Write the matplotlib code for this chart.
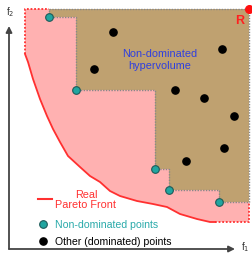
import matplotlib.pyplot as plt

plt.rcParams['font.family'] = ['Liberation Sans', 'DejaVu Sans']

# reference point
R = (240, 240)
# non-dominated points (f1, f2)
front_f1 = [40, 67, 146, 160, 210]
front_f2 = [232, 159, 80, 59, 47]
# other (dominated) points
other_f1 = [104, 85, 213, 166, 195, 225, 215, 177]
other_f2 = [217, 180, 200, 159, 151, 133, 101, 88]
# real Pareto front curve
curve_f1 = [16, 19, 24, 31, 38, 44, 51, 59, 71, 81, 91, 101, 111, 128, 144, 158, 171, 188, 201, 206]
curve_f2 = [195, 187, 170, 150, 133, 120, 107, 93, 82, 73, 67, 58, 53, 48, 45, 42, 35, 30, 27, 27]

pink = '#ffb1b1'
tan = '#bfa170'

fig = plt.figure(figsize=(2.53, 2.55), dpi=100)
ax = fig.add_axes([0, 0, 1, 1])
ax.set_xlim(-9, 244)
ax.set_ylim(-5, 250)
ax.axis('off')

# pink area dominated by the real front
px = [curve_f1[0]] + [R[0], R[0]] + curve_f1[::-1]
py = [R[1]] + [R[1], curve_f2[-1]] + curve_f2[::-1]
ax.fill(px, py, color=pink, lw=0)
ax.plot(curve_f1, curve_f2, color='#ff3030', lw=1.3)
ax.plot([curve_f1[0], curve_f1[0], front_f1[0]], [curve_f2[0], R[1], R[1]],
        color='#ff3030', ls=(0, (1, 1)), lw=1.3)
ax.plot([curve_f1[-1], R[0], R[0]], [curve_f2[-1], curve_f2[-1], front_f2[-1]],
        color='#ff3030', ls=(0, (1, 1)), lw=1.3)

# staircase hypervolume
sx = [front_f1[0], R[0], R[0]]
sy = [R[1], R[1], front_f2[-1]]
for i in range(len(front_f1) - 1, -1, -1):
    sx += [front_f1[i], front_f1[i]]
    sy += [front_f2[i], front_f2[i - 1] if i > 0 else R[1]]
ax.fill(sx, sy, color=tan, lw=0)
ax.plot(sx + [sx[0]], sy + [sy[0]], color='#888888', ls=(0, (1, 1)), lw=1.0)

ax.plot(other_f1, other_f2, 'o', color='black', ms=5.2, zorder=4)
ax.plot(front_f1, front_f2, 'o', color='#21a5a0', mec='#1d5a58', mew=0.8, ms=5.5, zorder=4)
ax.plot(R[0], R[1], 'o', color='#ff1010', ms=5.5, zorder=5, clip_on=False)
ax.text(231, 229, 'R', color='#ff2020', fontsize=9, fontweight='bold', ha='center', va='center')

ax.text(151, 190, 'Non-dominated\nhypervolume', color='#2f3fdf', fontsize=7.8,
        ha='center', va='center', linespacing=1.15)

# axes arrows
arrow = dict(arrowstyle='-|>', color='#444444', lw=1.3, mutation_scale=9, shrinkA=0, shrinkB=0)
ax.annotate('', xy=(0, 223), xytext=(0, 0), arrowprops=arrow)
ax.annotate('', xy=(226, 0), xytext=(0, 0), arrowprops=arrow)
ax.text(1, 238, 'f$_2$', fontsize=7, ha='center', va='center', color='#333333')
ax.text(236, 3, 'f$_1$', fontsize=7, ha='center', va='center', color='#333333')

# legend
ax.plot([29, 43], [50, 50], color='#ff3030', lw=1.5)
ax.text(77, 50, 'Real\nPareto Front', color='#ff3030', fontsize=7.8, ha='center', va='center',
        linespacing=1.0)
ax.plot(34, 25, 'o', color='#21a5a0', mec='#1d5a58', mew=0.8, ms=5.5)
ax.text(46, 25, 'Non-dominated points', color='#2aaaaa', fontsize=7.6, va='center')
ax.plot(34, 8, 'o', color='black', ms=5.2)
ax.text(46, 8, 'Other (dominated) points', color='black', fontsize=7.6, va='center')

fig.savefig('out.png', dpi=100)
